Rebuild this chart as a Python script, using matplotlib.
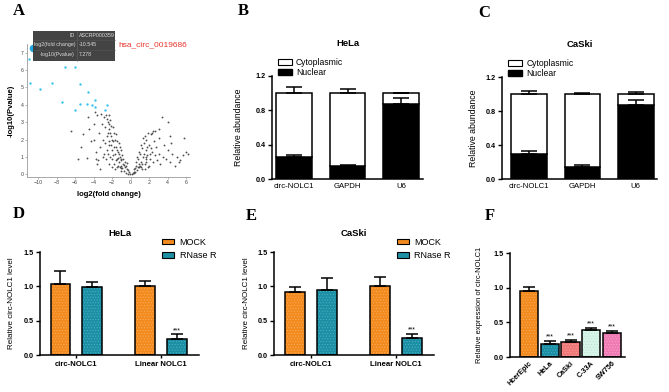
import matplotlib
matplotlib.use('Agg')
import matplotlib.pyplot as plt
from matplotlib.patches import Rectangle, Patch

plt.rcParams['font.family'] = ['Liberation Sans', 'DejaVu Sans']
plt.rcParams['hatch.linewidth'] = 0.4

# ---- data ----
# A: volcano plot
grey_x = [-0.1, 0.1, -0.3, 0.3, -0.5, 0.5, -0.2, 0.2, -0.7, 0.7, -0.4, -0.9, 0.9, -0.6, -1.1, 1.1, -0.8, 0.6,
          -1.0, -1.2, -1.3, -1.4, -1.5, -1.6, -1.7, -1.8, -1.9, -2.0, -2.1, -2.2, -2.3, -2.4, -2.5, -2.6, -2.7,
          -2.8, -2.9, -3.0, -3.2, -2.2, -1.9, -1.6, -1.3, -1.1, -0.9, -2.0, -1.7, -2.4, -2.7, -3.3, -3.5, -3.1,
          -2.5, -2.0, -1.5, -1.2, -1.8, -2.3, -2.6, -1.4, -1.0, -1.6, -2.1, -1.9, -2.8, -3.0, -2.4, -2.1, -1.7,
          -1.3, -1.1, -0.8, -0.6, -0.5, -1.5, -2.2, -2.6, -2.9, -2.3, -1.8, -1.2, -3.4, -3.8, -3.6, -4.0, -3.3,
          -0.3, -0.7, -1.4, -0.4, -1.0, -2.5, -2.0, -1.5,
          0.8, 1.0, 1.1, 1.2, 1.3, 1.4, 1.5, 1.6, 1.7, 1.8, 1.9, 2.0, 2.1, 2.2, 2.3, 2.4, 2.5, 0.6, 0.9, 1.2,
          1.4, 1.6, 1.8, 2.0, 2.2, 2.6, 2.8, 1.1, 1.3, 1.5, 0.7, 1.0, 1.7, 2.4, 2.7, 3.0, 3.2, 3.0, 3.5, 3.6,
          3.8, 4.0, 4.2, 4.5, 4.8, 5.0, 5.3, 5.6, 6.0, 6.2, 5.8, 4.2, 3.4, 4.0, 2.3, 2.6, 1.9, 3.1, 4.4, 5.2,
          0.4, 0.3, 0.8, 1.2, 1.5, 0.5, 0.9, 1.7, 2.1,
          -6.4, -5.1, -4.6, -4.5, -5.7, -4.7, -3.8, -5.4, -4.3, -4.0, -3.6, -3.9]
grey_y = [0.02, 0.03, 0.05, 0.06, 0.10, 0.12, 0.15, 0.10, 0.20, 0.25, 0.30, 0.35, 0.40, 0.45, 0.50, 0.45, 0.60, 0.50,
          0.80, 1.00, 0.70, 1.30, 0.90, 1.60, 1.20, 0.60, 1.90, 1.40, 2.20, 1.00, 2.60, 1.70, 3.00, 2.20, 3.40,
          2.70, 1.20, 2.00, 3.50, 3.10, 2.70, 2.30, 1.80, 1.40, 1.10, 0.40, 0.30, 0.60, 0.90, 1.60, 0.80, 2.90,
          2.40, 2.00, 1.90, 1.60, 2.40, 1.90, 1.40, 0.50, 0.20, 0.80, 1.70, 1.10, 1.80, 1.00, 2.90, 2.80, 2.00,
          1.20, 0.90, 0.90, 0.70, 0.50, 1.40, 2.40, 3.20, 3.30, 3.40, 1.60, 0.40, 2.40, 1.30, 0.60, 2.00, 0.30,
          0.25, 0.55, 0.95, 0.65, 0.35, 1.20, 0.90, 0.40,
          0.90, 1.20, 0.70, 1.50, 1.00, 1.80, 0.60, 1.40, 2.00, 1.10, 0.40, 1.70, 0.90, 2.30, 1.30, 0.70, 1.90, 0.70, 1.30, 0.30,
          1.20, 0.90, 1.60, 0.50, 1.50, 1.10, 0.80, 1.70, 2.10, 2.20, 1.00, 0.50, 0.70, 2.50, 1.60, 1.20, 0.60, 2.10, 1.00, 1.70,
          0.90, 1.40, 0.70, 1.20, 0.50, 1.00, 0.80, 1.10, 1.30, 1.20, 2.10, 2.20, 3.30, 3.00, 2.40, 2.50, 2.40, 2.60, 1.80, 0.70,
          0.30, 0.15, 0.45, 0.60, 0.30, 0.35, 0.60, 1.00, 1.20,
          2.50, 2.30, 3.30, 2.60, 0.90, 0.96, 0.90, 1.60, 1.90, 2.90, 3.40, 3.60]
sig_x = [-10.97, -10.83, -9.75, -8.45, -7.08, -6.0, -7.37, -5.53, -6.0, -5.46, -4.63, -4.74, -4.13, -3.9, -3.84,
         -2.83, -2.57]
sig_y = [6.65, 5.28, 4.9, 5.24, 6.2, 6.2, 4.18, 5.2, 3.7, 4.03, 4.74, 4.03, 3.97, 3.89, 4.28, 3.7, 3.97]
top_hit = (-10.545, 7.278)

# B / C: nuclear / cytoplasmic fractions
frac_genes = ['circ-NOLC1', 'GAPDH', 'U6']
hela_nuc = [0.26, 0.15, 0.87]
hela_nuc_err = [0.02, 0.01, 0.07]
hela_cyto = [0.74, 0.85, 0.13]
hela_cyto_err = [0.07, 0.05, 0.005]
caski_nuc = [0.30, 0.14, 0.87]
caski_nuc_err = [0.03, 0.02, 0.06]
caski_cyto = [0.70, 0.86, 0.13]
caski_cyto_err = [0.03, 0.01, 0.02]

# D / E: RNase R
rnase_groups = ['circ-NOLC1', 'Linear NOLC1']
hela_mock = [1.03, 1.00]
hela_mock_err = [0.19, 0.08]
hela_rnase = [0.99, 0.23]
hela_rnase_err = [0.08, 0.07]
caski_mock = [0.92, 1.01]
caski_mock_err = [0.07, 0.12]
caski_rnase = [0.94, 0.25]
caski_rnase_err = [0.18, 0.06]

# F: cell lines
cell_lines = ['HcerEpic', 'HeLa', 'CaSki', 'C-33A', 'SW756']
cell_expr = [0.95, 0.19, 0.22, 0.39, 0.34]
cell_err = [0.06, 0.04, 0.03, 0.03, 0.04]
cell_colors = ['#F28A1E', '#1C8FA5', '#F07878', '#D8F5EA', '#F07AB4']
cell_hatch = ['#F8B060', '#4FB3C6', '#F7A3A3', '#B8E0D0', '#F7A8CF']

ORANGE, ORANGE_H = '#F28A1E', '#F8B060'
TEAL, TEAL_H = '#1C8FA5', '#4FB3C6'

fig = plt.figure(figsize=(6.69, 3.92), dpi=100)


def px_axes(left, top, right, bottom):
    return fig.add_axes([left / 669, 1 - bottom / 392, (right - left) / 669, (bottom - top) / 392])


def style_bar_axes(ax):
    for s in ['top', 'right']:
        ax.spines[s].set_visible(False)
    for s in ['left', 'bottom']:
        ax.spines[s].set_linewidth(1.1)
    ax.tick_params(axis='both', width=1.0, length=3, labelsize=5.2, pad=1.5)
    for t in ax.get_yticklabels():
        t.set_fontweight('bold')


def dotted_bar(ax, x, h, w, fc, hc):
    ax.bar(x, h, w, color=fc, edgecolor=hc, hatch='......', lw=0, zorder=2)
    ax.bar(x, h, w, fill=False, edgecolor='black', lw=1.1, zorder=3)


# ---- A: volcano ----
axA = px_axes(27, 44, 190, 177)
axA.scatter(grey_x, grey_y, s=1.8, color='#505050', lw=0)
axA.scatter(sig_x, sig_y, s=3, color='#38C4EE', lw=0)
axA.scatter([top_hit[0]], [top_hit[1]], s=30, color='#1FA8E0', lw=0, clip_on=False, zorder=5)
axA.set_xlim(-11.2, 6.4)
axA.set_ylim(-0.15, 7.5)
axA.set_xticks([-10, -8, -6, -4, -2, 0, 2, 4, 6])
axA.set_yticks(range(8))
for s in ['top', 'right']:
    axA.spines[s].set_visible(False)
for s in ['left', 'bottom']:
    axA.spines[s].set_color('#9a9a9a')
    axA.spines[s].set_linewidth(0.6)
axA.tick_params(labelsize=3.8, length=1.5, width=0.5, color='#9a9a9a', labelcolor='#444444', pad=1)
axA.set_xlabel('log2(fold change)', fontsize=5.5, fontweight='bold', labelpad=4)
axA.set_ylabel('-log10(Pvalue)', fontsize=5.5, fontweight='bold', labelpad=4)

# ---- B / C: stacked fractions ----
def frac_panel(ax, nuc, nuc_err, cyto, cyto_err, title):
    x = range(len(frac_genes))
    ax.bar(x, nuc, 0.67, color='black', edgecolor='black', lw=1.1, zorder=2)
    ax.bar(x, cyto, 0.67, bottom=nuc, color='white', edgecolor='black', lw=1.1, zorder=2)
    tot = [a + b for a, b in zip(nuc, cyto)]
    ax.errorbar(x, nuc, yerr=[[0] * 3, nuc_err], fmt='none', ecolor='black', elinewidth=1.1, capsize=5.5,
                capthick=1.1, zorder=4)
    ax.errorbar(x, tot, yerr=[[0] * 3, cyto_err], fmt='none', ecolor='black', elinewidth=1.1, capsize=5.5,
                capthick=1.1, zorder=4)
    ax.set_ylim(0, 1.2)
    ax.set_yticks([0, 0.4, 0.8, 1.2])
    ax.set_yticklabels(['0.0', '0.4', '0.8', '1.2'])
    ax.set_xticks(list(x))
    ax.set_xticklabels(frac_genes)
    style_bar_axes(ax)
    ax.tick_params(axis='x', length=0, labelsize=5.6, pad=3)
    ax.set_ylabel('Relative abundance', fontsize=6.3)
    ax.text(0.5, 1.32, title, transform=ax.transAxes, ha='center', va='center', fontsize=6.8,
            fontweight='bold')
    handles = [Patch(facecolor='white', edgecolor='black', lw=0.8), Patch(facecolor='black', edgecolor='black')]
    ax.legend(handles, ['Cytoplasmic', 'Nuclear'], loc='upper left', bbox_to_anchor=(0.04, 1.175),
              frameon=False, fontsize=6.2, handlelength=1.6, handleheight=0.6, handletextpad=0.5,
              labelspacing=0.1, borderaxespad=0, borderpad=0)


axB = px_axes(272, 76, 423, 179)
frac_panel(axB, hela_nuc, hela_nuc_err, hela_cyto, hela_cyto_err, 'HeLa')
axB.set_xlim(-0.41, 2.41)
axB.yaxis.set_label_coords(-0.19, 0.5)

axC = px_axes(502, 77, 657, 179)
frac_panel(axC, caski_nuc, caski_nuc_err, caski_cyto, caski_cyto_err, 'CaSki')
axC.set_xlim(-0.51, 2.40)
axC.yaxis.set_label_coords(-0.155, 0.5)

# ---- D / E: RNase R ----
def rnase_panel(ax, mock, mock_err, rnase, rnase_err, title):
    off, w = 0.188, 0.235
    for i in range(len(rnase_groups)):
        dotted_bar(ax, i - off, mock[i], w, ORANGE, ORANGE_H)
        dotted_bar(ax, i + off, rnase[i], w, TEAL, TEAL_H)
    xs = [i - off for i in range(2)] + [i + off for i in range(2)]
    ys = list(mock) + list(rnase)
    es = list(mock_err) + list(rnase_err)
    ax.errorbar(xs, ys, yerr=[[0] * 4, es], fmt='none', ecolor='black', elinewidth=1.1, capsize=4.5,
                capthick=1.1, zorder=4)
    ax.text(1 + off, rnase[1] + rnase_err[1] + 0.005, '***', ha='center', va='bottom', fontsize=5)
    ax.set_ylim(0, 1.5)
    ax.set_xlim(-0.43, 1.447)
    ax.set_yticks([0, 0.5, 1.0, 1.5])
    ax.set_yticklabels(['0.0', '0.5', '1.0', '1.5'])
    ax.set_xticks([0, 1])
    ax.set_xticklabels(rnase_groups)
    style_bar_axes(ax)
    for t in ax.get_xticklabels():
        t.set_fontweight('bold')
    ax.tick_params(axis='x', labelsize=5.6, length=2.5)
    ax.set_ylabel('Relative circ-NOLC1 level', fontsize=5.8)
    ax.text(0.5, 1.18, title, transform=ax.transAxes, ha='center', va='center', fontsize=6.8,
            fontweight='bold')
    handles = [Patch(facecolor=ORANGE, edgecolor='black', lw=0.8), Patch(facecolor=TEAL, edgecolor='black', lw=0.8)]
    ax.legend(handles, ['MOCK', 'RNase R'], loc='upper left', bbox_to_anchor=(0.77, 1.14),
              frameon=False, fontsize=6.5, handlelength=1.3, handleheight=0.55, handletextpad=0.6,
              labelspacing=0.5, borderaxespad=0, borderpad=0)


axD = px_axes(40, 252, 199, 355)
rnase_panel(axD, hela_mock, hela_mock_err, hela_rnase, hela_rnase_err, 'HeLa')
axD.yaxis.set_label_coords(-0.16, 0.5)

axE = px_axes(274, 252, 434, 355)
rnase_panel(axE, caski_mock, caski_mock_err, caski_rnase, caski_rnase_err, 'CaSki')
axE.yaxis.set_label_coords(-0.15, 0.5)

# ---- F: cell lines ----
axF = px_axes(510, 253, 625, 357)
for i in range(len(cell_lines)):
    dotted_bar(axF, i, cell_expr[i], 0.87, cell_colors[i], cell_hatch[i])
axF.errorbar(range(5), cell_expr, yerr=[[0] * 5, cell_err], fmt='none', ecolor='black', elinewidth=1.1,
             capsize=4, capthick=1.1, zorder=4)
for i in range(1, 5):
    axF.text(i, cell_expr[i] + cell_err[i] + 0.005, '***', ha='center', va='bottom', fontsize=5)
axF.set_ylim(0, 1.5)
axF.set_xlim(-0.92, 4.63)
axF.set_yticks([0, 0.5, 1.0, 1.5])
axF.set_yticklabels(['0.0', '0.5', '1.0', '1.5'])
axF.set_xticks(range(5))
axF.set_xticklabels(cell_lines, rotation=45, ha='right', rotation_mode='anchor')
style_bar_axes(axF)
for t in axF.get_xticklabels():
    t.set_fontweight('bold')
axF.tick_params(axis='x', labelsize=5.2, length=0, pad=2)
axF.set_ylabel('Relative expression of circ-NOLC1', fontsize=5.4)
axF.yaxis.set_label_coords(-0.235, 0.5)

# ---- overlay: panel letters and tooltip ----
ov = fig.add_axes([0, 0, 1, 1])
ov.set_xlim(0, 669)
ov.set_ylim(392, 0)
ov.axis('off')
ov.patch.set_alpha(0)
for lab, x, y in [('A', 13, 11), ('B', 238, 11), ('C', 478, 13), ('D', 13, 214), ('E', 246, 216), ('F', 485, 216)]:
    ov.text(x, y, lab, fontsize=12, fontweight='bold', family='Liberation Serif', ha='left', va='center')

ov.add_patch(Rectangle((33, 30.5), 82, 30, facecolor='#3a3a3a', edgecolor='none', alpha=0.95))
ov.plot([77, 77], [30.5, 60.5], color='#666666', lw=0.4)
for yy in [39.8, 49.5]:
    ov.plot([33, 115], [yy, yy], color='#555555', lw=0.4)
rows = [('ID', 'ASCRP000359', 35.2), ('log2(fold change)', '-10.545', 44.7), ('-log10(Pvalue)', '7.278', 54.5)]
for k, v, yy in rows:
    ov.text(75, yy, k, fontsize=3.8, color='#dddddd', ha='right', va='center')
    ov.text(79, yy, v, fontsize=3.8, color='#dddddd', ha='left', va='center')
ov.text(118, 44.5, 'hsa_circ_0019686', fontsize=6, color='#E5342C', ha='left', va='center')

fig.savefig('out.png', dpi=100)
